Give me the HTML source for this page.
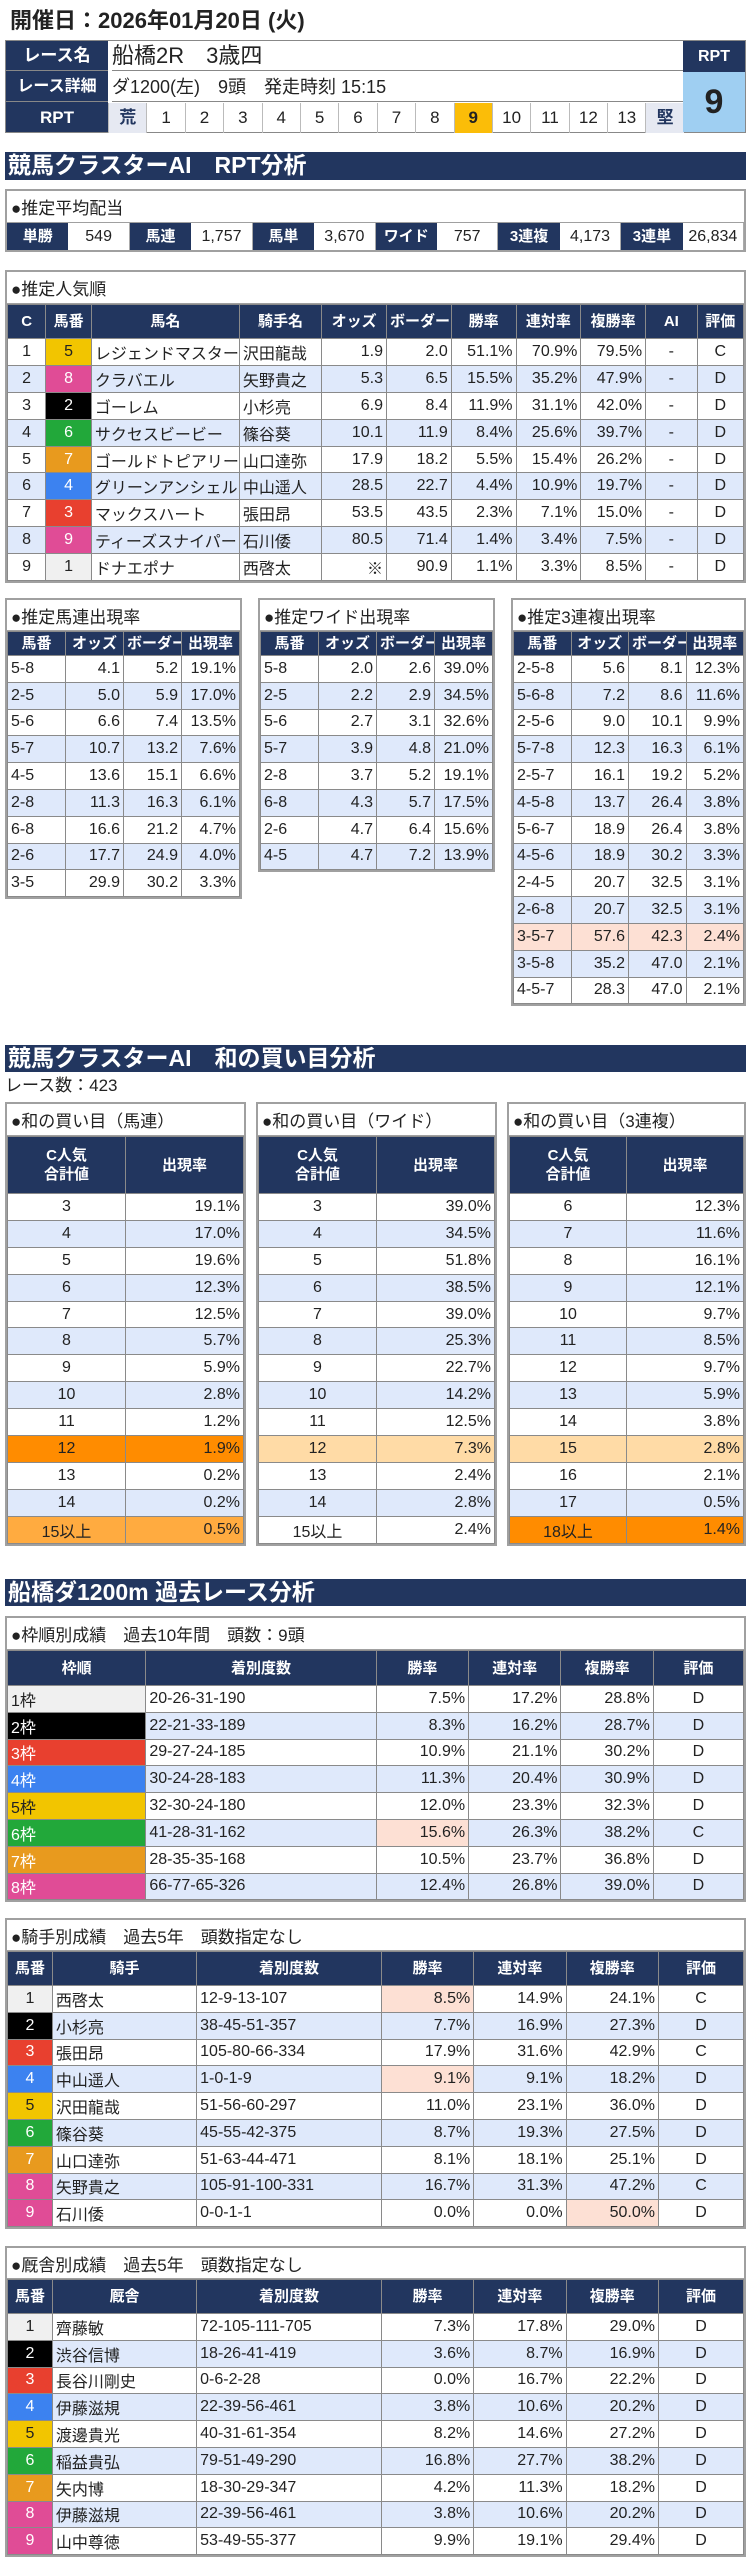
<!DOCTYPE html>
<html lang="ja"><head><meta charset="utf-8">
<style>
*{box-sizing:border-box;margin:0;padding:0}
body{width:751px;height:2560px;background:#fff;position:relative;font-family:"Liberation Sans","Noto Sans CJK JP",sans-serif;color:#222;overflow:hidden}
.abs{position:absolute}
.bar{position:absolute;left:5px;width:741px;background:#22365f;color:#fff;font-weight:bold;font-size:23px;line-height:27px;padding-left:3px;white-space:pre}
table{border-collapse:collapse;table-layout:fixed;width:100%}
td{border:1px solid #8a8a8a;font-size:16px;padding:0 3px;white-space:nowrap;overflow:hidden}
td.h{background:#22365f;color:#fff;font-weight:bold;text-align:center;font-size:15px;line-height:19px}
.box{position:absolute;border:2px solid #a0a0a0;background:#fff}
.bt{font-size:17px;padding-left:4px;border-bottom:1px solid #a0a0a0;display:flex;align-items:center;white-space:pre}
</style></head><body>
<div class="abs" style="left:10px;top:6px;font-size:22px;font-weight:bold;line-height:30px">開催日：2026年01月20日 (火)</div>

<div class="abs" style="left:5px;top:40px;width:741px;height:93px;border:1px solid #888">
 <div class="abs" style="left:0;top:0;width:102px;height:91px;background:#22365f"></div>
 <div class="abs" style="left:0;top:0;width:102px;height:30px;color:#fff;font-weight:bold;font-size:17px;text-align:center;line-height:30px;border-bottom:1px solid #888">レース名</div>
 <div class="abs" style="left:0;top:31px;width:102px;height:30px;color:#fff;font-weight:bold;font-size:16px;text-align:center;line-height:30px;border-bottom:1px solid #888">レース詳細</div>
 <div class="abs" style="left:0;top:62px;width:102px;height:30px;color:#fff;font-weight:bold;font-size:17px;text-align:center;line-height:30px">RPT</div>
 <div class="abs" style="left:106px;top:0;width:572px;height:30px;font-size:22px;line-height:30px;border-bottom:1px solid #888;white-space:pre">船橋2R　3歳四</div>
 <div class="abs" style="left:106px;top:31px;width:572px;height:30px;font-size:18px;line-height:30px;border-bottom:1px solid #888;white-space:pre">ダ1200(左)　9頭　発走時刻 15:15</div>
 <div class="abs" id="rptscale" style="left:102px;top:62px;width:576px;height:30px;display:flex"></div>
 <div class="abs" style="left:677px;top:0;width:62px;height:31px;background:#22365f;color:#fff;font-weight:bold;font-size:16px;text-align:center;line-height:31px">RPT</div>
 <div class="abs" style="left:677px;top:31px;width:62px;height:60px;background:#9fcff2;font-weight:bold;font-size:34px;text-align:center;line-height:60px">9</div>
</div>

<div class="bar" style="top:152px;height:28px">競馬クラスターAI　RPT分析</div>

<div class="box" style="left:5px;top:189px;width:741px;height:63px">
 <div class="bt" style="height:32px">●推定平均配当</div>
 <div id="payout" style="display:flex;height:27px"></div>
</div>

<div class="box" id="popbox" style="left:5px;top:270px;width:741px"></div>
<div class="box" id="q1" style="left:5px;top:598px;width:237px"></div>
<div class="box" id="q2" style="left:258px;top:598px;width:237px"></div>
<div class="box" id="q3" style="left:511px;top:598px;width:235px"></div>

<div class="bar" style="top:1045px;height:27px">競馬クラスターAI　和の買い目分析</div>
<div class="abs" style="left:5px;top:1074px;font-size:17px;line-height:24px">レース数：423</div>
<div class="box" id="s1" style="left:5px;top:1102px;width:241px"></div>
<div class="box" id="s2" style="left:256px;top:1102px;width:241px"></div>
<div class="box" id="s3" style="left:507px;top:1102px;width:239px"></div>

<div class="bar" style="top:1579px;height:27px">船橋ダ1200m 過去レース分析</div>
<div class="box" id="p1" style="left:5px;top:1616px;width:741px"></div>
<div class="box" id="p2" style="left:5px;top:1918px;width:741px"></div>
<div class="box" id="p3" style="left:5px;top:2246px;width:741px"></div>

<script>
const LB='#dfe9fb', SAL='#fde0d4', OR1='#ff8c00', OR2='#ffab40', OR3='#ffdba6';
const FR={1:['#f0f0f0','#222'],2:['#000','#fff'],3:['#e8402f','#fff'],4:['#3c82f0','#fff'],5:['#f2c500','#222'],6:['#22a83a','#fff'],7:['#e89a1e','#fff'],8:['#e04c96','#fff'],9:['#e04c96','#fff']};

const rptLabels=['荒','1','2','3','4','5','6','7','8','9','10','11','12','13','堅'];
const rptValue='9';
const payoutLabels=['単勝','馬連','馬単','ワイド','3連複','3連単'];
const payoutValues=['549','1,757','3,670','757','4,173','26,834'];

const popC=['1','2','3','4','5','6','7','8','9'];
const popNum=[5,8,2,6,7,4,3,9,1];
const popName=['レジェンドマスター','クラバエル','ゴーレム','サクセスビービー','ゴールドトピアリー','グリーンアンシェル','マックスハート','ティーズスナイパー','ドナエポナ'];
const popJockey=['沢田龍哉','矢野貴之','小杉亮','篠谷葵','山口達弥','中山遥人','張田昂','石川倭','西啓太'];
const popOdds=['1.9','5.3','6.9','10.1','17.9','28.5','53.5','80.5','※'];
const popBorder=['2.0','6.5','8.4','11.9','18.2','22.7','43.5','71.4','90.9'];
const popWin=['51.1%','15.5%','11.9%','8.4%','5.5%','4.4%','2.3%','1.4%','1.1%'];
const popRen=['70.9%','35.2%','31.1%','25.6%','15.4%','10.9%','7.1%','3.4%','3.3%'];
const popFuku=['79.5%','47.9%','42.0%','39.7%','26.2%','19.7%','15.0%','7.5%','8.5%'];
const popGrade=['C','D','D','D','D','D','D','D','D'];

const umaKey=['5-8','2-5','5-6','5-7','4-5','2-8','6-8','2-6','3-5'];
const umaOdds=['4.1','5.0','6.6','10.7','13.6','11.3','16.6','17.7','29.9'];
const umaBorder=['5.2','5.9','7.4','13.2','15.1','16.3','21.2','24.9','30.2'];
const umaRate=['19.1%','17.0%','13.5%','7.6%','6.6%','6.1%','4.7%','4.0%','3.3%'];
const wideKey=['5-8','2-5','5-6','5-7','2-8','6-8','2-6','4-5'];
const wideOdds=['2.0','2.2','2.7','3.9','3.7','4.3','4.7','4.7'];
const wideBorder=['2.6','2.9','3.1','4.8','5.2','5.7','6.4','7.2'];
const wideRate=['39.0%','34.5%','32.6%','21.0%','19.1%','17.5%','15.6%','13.9%'];
const trioKey=['2-5-8','5-6-8','2-5-6','5-7-8','2-5-7','4-5-8','5-6-7','4-5-6','2-4-5','2-6-8','3-5-7','3-5-8','4-5-7'];
const trioOdds=['5.6','7.2','9.0','12.3','16.1','13.7','18.9','18.9','20.7','20.7','57.6','35.2','28.3'];
const trioBorder=['8.1','8.6','10.1','16.3','19.2','26.4','26.4','30.2','32.5','32.5','42.3','47.0','47.0'];
const trioRate=['12.3%','11.6%','9.9%','6.1%','5.2%','3.8%','3.8%','3.3%','3.1%','3.1%','2.4%','2.1%','2.1%'];

const sumUmaKey=['3','4','5','6','7','8','9','10','11','12','13','14','15以上'];
const sumUmaRate=['19.1%','17.0%','19.6%','12.3%','12.5%','5.7%','5.9%','2.8%','1.2%','1.9%','0.2%','0.2%','0.5%'];
const sumWideKey=['3','4','5','6','7','8','9','10','11','12','13','14','15以上'];
const sumWideRate=['39.0%','34.5%','51.8%','38.5%','39.0%','25.3%','22.7%','14.2%','12.5%','7.3%','2.4%','2.8%','2.4%'];
const sumTrioKey=['6','7','8','9','10','11','12','13','14','15','16','17','18以上'];
const sumTrioRate=['12.3%','11.6%','16.1%','12.1%','9.7%','8.5%','9.7%','5.9%','3.8%','2.8%','2.1%','0.5%','1.4%'];

const frLabel=['1枠','2枠','3枠','4枠','5枠','6枠','7枠','8枠'];
const frRec=['20-26-31-190','22-21-33-189','29-27-24-185','30-24-28-183','32-30-24-180','41-28-31-162','28-35-35-168','66-77-65-326'];
const frWin=['7.5%','8.3%','10.9%','11.3%','12.0%','15.6%','10.5%','12.4%'];
const frRen=['17.2%','16.2%','21.1%','20.4%','23.3%','26.3%','23.7%','26.8%'];
const frFuku=['28.8%','28.7%','30.2%','30.9%','32.3%','38.2%','36.8%','39.0%'];
const frGrade=['D','D','D','D','D','C','D','D'];

const jkName=['西啓太','小杉亮','張田昂','中山遥人','沢田龍哉','篠谷葵','山口達弥','矢野貴之','石川倭'];
const jkRec=['12-9-13-107','38-45-51-357','105-80-66-334','1-0-1-9','51-56-60-297','45-55-42-375','51-63-44-471','105-91-100-331','0-0-1-1'];
const jkWin=['8.5%','7.7%','17.9%','9.1%','11.0%','8.7%','8.1%','16.7%','0.0%'];
const jkRen=['14.9%','16.9%','31.6%','9.1%','23.1%','19.3%','18.1%','31.3%','0.0%'];
const jkFuku=['24.1%','27.3%','42.9%','18.2%','36.0%','27.5%','25.1%','47.2%','50.0%'];
const jkGrade=['C','D','C','D','D','D','D','C','D'];

const trName=['齊藤敏','渋谷信博','長谷川剛史','伊藤滋規','渡邊貴光','稲益貴弘','矢内博','伊藤滋規','山中尊徳'];
const trRec=['72-105-111-705','18-26-41-419','0-6-2-28','22-39-56-461','40-31-61-354','79-51-49-290','18-30-29-347','22-39-56-461','53-49-55-377'];
const trWin=['7.3%','3.6%','0.0%','3.8%','8.2%','16.8%','4.2%','3.8%','9.9%'];
const trRen=['17.8%','8.7%','16.7%','10.6%','14.6%','27.7%','11.3%','10.6%','19.1%'];
const trFuku=['29.0%','16.9%','22.2%','20.2%','27.2%','38.2%','18.2%','20.2%','29.4%'];
const trGrade=['D','D','D','D','D','D','D','D','D'];

// RPT scale
const rs=document.getElementById('rptscale');
rptLabels.forEach((l,i)=>{
  const d=document.createElement('div');
  
  
  const edge=(l==='荒'||l==='堅');
  d.style.cssText='width:38.4px;height:30px;line-height:30px;text-align:center;font-size:17px;border-left:1px solid #bbb;'+(edge?'background:#e6e9f2;color:#22365f;font-weight:bold;':'')+(l===rptValue?'background:#fbbd08;font-weight:bold;':'');
  d.textContent=l;
  rs.appendChild(d);
});
// payout
const po=document.getElementById('payout');
payoutLabels.forEach((l,i)=>{
  const a=document.createElement('div');
  
  
  a.style.cssText='width:61.6px;background:#22365f;color:#fff;font-weight:bold;font-size:15px;text-align:center;line-height:27px';
  a.textContent=l;
  const b=document.createElement('div');
  
  
  b.style.cssText='width:61.6px;font-size:16px;text-align:center;line-height:27px;border-right:1px solid #aaa';
  b.textContent=payoutValues[i];
  po.appendChild(a);po.appendChild(b);
});

function build(id,title,titleH,headers,widths,aligns,rows,headH,rowH,name){
  const box=document.getElementById(id);
  const t=document.createElement('div');
  t.className='bt';
  
  
  t.style.height=titleH+'px';
  t.textContent=title;
  box.appendChild(t);
  const tb=document.createElement('table');
  
  
  const cg=document.createElement('colgroup');
  widths.forEach(w=>{const c=document.createElement('col');c.style.width=w+'%';cg.appendChild(c);});
  tb.appendChild(cg);
  const hr=document.createElement('tr');
  hr.style.height=headH+'px';
  headers.forEach(h=>{const td=document.createElement('td');td.className='h';td.innerHTML=h;hr.appendChild(td);});
  tb.appendChild(hr);
  rows.forEach((r,ri)=>{
    const tr=document.createElement('tr');
    
    
    tr.style.height=rowH+'px';
    r.forEach((c,ci)=>{
      const td=document.createElement('td');
      const o=(typeof c==='object')?c:{t:c};
      td.textContent=o.t;
      td.style.textAlign=aligns[ci];
      td.style.background=o.bg||(ri%2?LB:'#fff');
      if(o.c)td.style.color=o.c;
      tr.appendChild(td);
    });
    tb.appendChild(tr);
  });
  box.appendChild(tb);
}
const fc=(n,t)=>({t:t,bg:FR[n][0],c:FR[n][1]});

build('popbox','●推定人気順',32,['C','馬番','馬名','騎手名','オッズ','ボーダー','勝率','連対率','複勝率','AI','評価'],
 [5.2,6.2,20.1,11.2,8.8,8.8,8.8,8.8,8.8,7,6.3],['center','center','left','left','right','right','right','right','right','center','center'],
 popC.map((c,i)=>[c,fc(popNum[i],String(popNum[i])),popName[i],popJockey[i],popOdds[i],popBorder[i],popWin[i],popRen[i],popFuku[i],'-',popGrade[i]]),34,26.9,'popularity');

const qh=['馬番','オッズ','ボーダー','出現率'],qw=[25,25,25,25],qa=['left','right','right','right'];
build('q1','●推定馬連出現率',31,qh,qw,qa,umaKey.map((k,i)=>[k,umaOdds[i],umaBorder[i],umaRate[i]]),24,26.8,'umaren');
build('q2','●推定ワイド出現率',31,qh,qw,qa,wideKey.map((k,i)=>[k,wideOdds[i],wideBorder[i],wideRate[i]]),24,26.8,'wide');
build('q3','●推定3連複出現率',31,qh,qw,qa,trioKey.map((k,i)=>{const r=[k,trioOdds[i],trioBorder[i],trioRate[i]];return k==='3-5-7'?r.map(x=>({t:x,bg:SAL})):r;}),24,26.8,'trio');

const sh=['C人気<br>合計値','出現率'],sw=[50,50],sa=['center','right'];
const hl=(key,rate,map)=>key.map((k,i)=>map[k]?[{t:k,bg:map[k]},{t:rate[i],bg:map[k]}]:[k,rate[i]]);
build('s1','●和の買い目（馬連）',32,sh,sw,sa,hl(sumUmaKey,sumUmaRate,{'12':OR1,'15以上':OR2}),57,26.9,'sum-umaren');
build('s2','●和の買い目（ワイド）',32,sh,sw,sa,hl(sumWideKey,sumWideRate,{'12':OR3}),57,26.9,'sum-wide');
build('s3','●和の買い目（3連複）',32,sh,sw,sa,hl(sumTrioKey,sumTrioRate,{'15':OR3,'18以上':OR1}),57,26.9,'sum-trio');

const pw=[18.8,31.3,12.55,12.55,12.55,12.25];
build('p1','●枠順別成績　過去10年間　頭数：9頭',32,['枠順','着別度数','勝率','連対率','複勝率','評価'],pw,['left','left','right','right','right','center'],
 frLabel.map((l,i)=>[fc(i+1,l),frRec[i],i===5?{t:frWin[i],bg:SAL}:frWin[i],frRen[i],frFuku[i],frGrade[i]]),35,26.8,'frame');
const jw=[6.1,19.6,25.1,12.55,12.55,12.55,11.55];
const ja=['center','left','left','right','right','right','center'];
const hd=['馬番','騎手','着別度数','勝率','連対率','複勝率','評価'];
build('p2','●騎手別成績　過去5年　頭数指定なし',31,hd,jw,ja,
 jkName.map((n,i)=>[fc(i+1,String(i+1)),n,jkRec[i],(i===0||i===3)?{t:jkWin[i],bg:SAL}:jkWin[i],jkRen[i],i===8?{t:jkFuku[i],bg:SAL}:jkFuku[i],jkGrade[i]]),34,26.8,'jockey');
build('p3','●厩舎別成績　過去5年　頭数指定なし',31,['馬番','厩舎','着別度数','勝率','連対率','複勝率','評価'],jw,ja,
 trName.map((n,i)=>[fc(i+1,String(i+1)),n,trRec[i],trWin[i],trRen[i],trFuku[i],trGrade[i]]),34,26.8,'trainer');
</script>
</body></html>
